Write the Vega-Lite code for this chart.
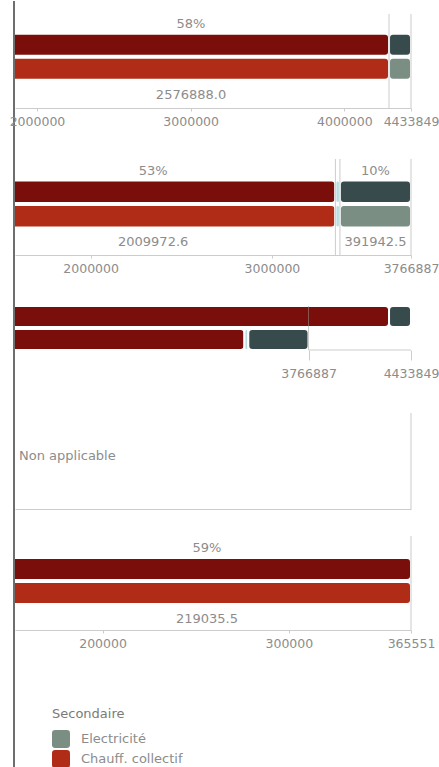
{
  "$schema": "https://vega.github.io/schema/vega-lite/v6.json",
  "padding": {"left": 9, "top": 0, "right": 0, "bottom": 0},
  "config": {
    "font": "DejaVu Sans",
    "view": {"stroke": null},
    "axis": {"labelFontSize": 12.5, "labelColor": "#8c8c8c", "domainColor": "#cccccc", "tickColor": "#cccccc", "tickSize": 3, "labelPadding": 4, "grid": false, "labelOverlap": false, "labelFlush": false},
    "text": {"fontSize": 13, "fill": "#8c8c8c"},
    "legend": {"titleFontSize": 13, "titleFontWeight": "normal", "titleColor": "#7a7a7a", "labelFontSize": 13, "labelColor": "#8c8c8c", "rowPadding": 2, "titlePadding": 9, "labelOffset": 11, "padding": 0}
  },
  "datasets": {
    "bars": [
      {"panel": "p1", "row": "top", "serie": "Chauff. collectif (principal)", "start": 1714000, "end": 4290888},
      {"panel": "p1", "row": "top", "serie": "Electricité (principal)", "start": 4290888, "end": 4433849},
      {"panel": "p1", "row": "bottom", "serie": "Chauff. collectif", "start": 1714000, "end": 4290888},
      {"panel": "p1", "row": "bottom", "serie": "Electricité", "start": 4290888, "end": 4433849},
      {"panel": "p2", "row": "top", "serie": "Chauff. collectif (principal)", "start": 1340027.4, "end": 3350000},
      {"panel": "p2", "row": "top", "serie": "Autre", "start": 3350000, "end": 3374944.5},
      {"panel": "p2", "row": "top", "serie": "Electricité (principal)", "start": 3374944.5, "end": 3766887},
      {"panel": "p2", "row": "bottom", "serie": "Chauff. collectif", "start": 1340027.4, "end": 3350000},
      {"panel": "p2", "row": "bottom", "serie": "Autre", "start": 3350000, "end": 3374944.5},
      {"panel": "p2", "row": "bottom", "serie": "Electricité", "start": 3374944.5, "end": 3766887},
      {"panel": "p3", "row": "top", "serie": "Chauff. collectif (principal)", "start": 1714000, "end": 4290888},
      {"panel": "p3", "row": "top", "serie": "Electricité (principal)", "start": 4290888, "end": 4433849},
      {"panel": "p3", "row": "bottom", "serie": "Chauff. collectif (principal)", "start": 1340027.4, "end": 3350000},
      {"panel": "p3", "row": "bottom", "serie": "Autre", "start": 3350000, "end": 3374944.5},
      {"panel": "p3", "row": "bottom", "serie": "Electricité (principal)", "start": 3374944.5, "end": 3766887},
      {"panel": "p5", "row": "top", "serie": "Chauff. collectif (principal)", "start": 146515.5, "end": 365551},
      {"panel": "p5", "row": "bottom", "serie": "Chauff. collectif", "start": 146515.5, "end": 365551}
    ],
    "labels": [
      {"panel": "p1", "row": "top", "mid": 3002444, "label": "58%"},
      {"panel": "p1", "row": "bottom", "mid": 3002444, "label": "2576888.0"},
      {"panel": "p2", "row": "top", "mid": 2345014, "label": "53%"},
      {"panel": "p2", "row": "bottom", "mid": 2345014, "label": "2009972.6"},
      {"panel": "p2", "row": "top", "mid": 3570916, "label": "10%"},
      {"panel": "p2", "row": "bottom", "mid": 3570916, "label": "391942.5"},
      {"panel": "p5", "row": "top", "mid": 256033, "label": "59%"},
      {"panel": "p5", "row": "bottom", "mid": 256033, "label": "219035.5"}
    ],
    "rules": [
      {"panel": "p1", "value": 4290888},
      {"panel": "p1", "value": 4433849},
      {"panel": "p2", "value": 3350000},
      {"panel": "p2", "value": 3374944.5},
      {"panel": "p2", "value": 3766887},
      {"panel": "p3", "value": 3766887},
      {"panel": "p5", "value": 365551}
    ],
    "brackets": [
      {"panel": "p3", "row": "bottom", "from": 3766887, "to": 4433849}
    ]
  },
  "spacing": -6,
  "hconcat": [
    {
      "width": 2,
      "height": 767,
      "data": {"values": [{"trait": "bord"}]},
      "mark": {"type": "rule", "stroke": "#6e6e6e", "strokeWidth": 2},
      "encoding": {"x": {"datum": 1, "type": "quantitative", "scale": {"domain": [0, 2]}, "axis": null}}
    },
    {
      "bounds": "flush",
      "spacing": 0,
      "resolve": {"scale": {"x": "independent", "y": "independent"}},
      "vconcat": [
        {"width": 1, "height": 13, "data": {"values": []}, "mark": "text", "encoding": {}},
        {
          "width": 396, "height": 94,
          "layer": [
            {
              "data": {"name": "bars"}, "transform": [{"filter": "datum.panel === 'p1'"}],
              "mark": {"type": "bar", "clip": true, "cornerRadius": 4, "stroke": "white", "strokeWidth": 2},
              "encoding": {
                "y": {"field": "row", "type": "nominal", "axis": null, "scale": {"domain": ["top", "bottom"], "paddingInner": 0.087, "paddingOuter": 1.087, "align": 0.41}},
                "x": {"field": "start", "type": "quantitative", "title": null, "scale": {"domain": [1856961, 4433849], "nice": false, "zero": false}, "axis": {"title": null, "values": [2000000, 3000000, 4000000, 4433849], "format": "d", "labelFlush": false, "labelOverlap": false}},
                "x2": {"field": "end"},
                "color": {"field": "serie", "type": "nominal", "title": "Secondaire",
                  "scale": {"domain": ["Electricité", "Chauff. collectif", "Electricité (principal)", "Chauff. collectif (principal)", "Autre"], "range": ["#7b8e84", "#b02c17", "#374b4d", "#7a0e0b", "#b5dde3"]},
                  "legend": {"values": ["Electricité", "Chauff. collectif"], "orient": "none", "legendX": 39, "legendY": 707, "symbolSize": 324, "symbolStrokeWidth": 0, "symbolType": "M-0.65,-1H0.65Q1,-1,1,-0.65V0.65Q1,1,0.65,1H-0.65Q-1,1,-1,0.65V-0.65Q-1,-1,-0.65,-1Z"}}
              }
            },
            {
              "data": {"name": "labels"}, "transform": [{"filter": "datum.panel === 'p1' && datum.row === 'top'"}],
              "mark": {"type": "text", "yOffset": -21},
              "encoding": {"x": {"field": "mid", "type": "quantitative", "title": null}, "y": {"field": "row", "type": "nominal"}, "text": {"field": "label"}}
            },
            {
              "data": {"name": "labels"}, "transform": [{"filter": "datum.panel === 'p1' && datum.row === 'bottom'"}],
              "mark": {"type": "text", "yOffset": 26},
              "encoding": {"x": {"field": "mid", "type": "quantitative", "title": null}, "y": {"field": "row", "type": "nominal"}, "text": {"field": "label"}}
            },
            {
              "data": {"name": "rules"}, "transform": [{"filter": "datum.panel === 'p1'"}],
              "mark": {"type": "rule", "stroke": "#999999", "strokeOpacity": 0.5},
              "encoding": {"x": {"field": "value", "type": "quantitative", "title": null}}
            }
          ]
        },
        {"width": 1, "height": 51, "data": {"values": []}, "mark": "text", "encoding": {}},
        {
          "width": 396, "height": 96,
          "layer": [
            {
              "data": {"name": "bars"}, "transform": [{"filter": "datum.panel === 'p2'"}],
              "mark": {"type": "bar", "clip": true, "cornerRadius": 4, "stroke": "white", "strokeWidth": 2},
              "encoding": {
                "y": {"field": "row", "type": "nominal", "axis": null, "scale": {"domain": ["top", "bottom"], "paddingInner": 0.087, "paddingOuter": 1.13, "align": 0.44}},
                "x": {"field": "start", "type": "quantitative", "title": null, "scale": {"domain": [1583000, 3766887], "nice": false, "zero": false}, "axis": {"title": null, "values": [2000000, 3000000, 3766887], "format": "d", "labelFlush": false, "labelOverlap": false}},
                "x2": {"field": "end"},
                "color": {"field": "serie", "type": "nominal", "title": "Secondaire",
                  "scale": {"domain": ["Electricité", "Chauff. collectif", "Electricité (principal)", "Chauff. collectif (principal)", "Autre"], "range": ["#7b8e84", "#b02c17", "#374b4d", "#7a0e0b", "#b5dde3"]},
                  "legend": {"values": ["Electricité", "Chauff. collectif"], "orient": "none", "legendX": 39, "legendY": 707, "symbolSize": 324, "symbolStrokeWidth": 0, "symbolType": "M-0.65,-1H0.65Q1,-1,1,-0.65V0.65Q1,1,0.65,1H-0.65Q-1,1,-1,0.65V-0.65Q-1,-1,-0.65,-1Z"}}
              }
            },
            {
              "data": {"name": "labels"}, "transform": [{"filter": "datum.panel === 'p2' && datum.row === 'top'"}],
              "mark": {"type": "text", "yOffset": -21},
              "encoding": {"x": {"field": "mid", "type": "quantitative", "title": null}, "y": {"field": "row", "type": "nominal"}, "text": {"field": "label"}}
            },
            {
              "data": {"name": "labels"}, "transform": [{"filter": "datum.panel === 'p2' && datum.row === 'bottom'"}],
              "mark": {"type": "text", "yOffset": 26},
              "encoding": {"x": {"field": "mid", "type": "quantitative", "title": null}, "y": {"field": "row", "type": "nominal"}, "text": {"field": "label"}}
            },
            {
              "data": {"name": "rules"}, "transform": [{"filter": "datum.panel === 'p2'"}],
              "mark": {"type": "rule", "stroke": "#999999", "strokeOpacity": 0.5},
              "encoding": {"x": {"field": "value", "type": "quantitative", "title": null}}
            }
          ]
        },
        {"width": 1, "height": 51, "data": {"values": []}, "mark": "text", "encoding": {}},
        {
          "width": 396, "height": 44,
          "layer": [
            {
              "data": {"name": "bars"}, "transform": [{"filter": "datum.panel === 'p3'"}],
              "mark": {"type": "bar", "clip": true, "cornerRadius": 4, "stroke": "white", "strokeWidth": 2},
              "encoding": {
                "y": {"field": "row", "type": "nominal", "axis": null, "scale": {"domain": ["top", "bottom"], "paddingInner": 0.09, "paddingOuter": 0}},
                "x": {"field": "start", "type": "quantitative", "title": null, "scale": {"domain": [1856961, 4433849], "nice": false, "zero": false}, "axis": {"title": null, "values": [3766887, 4433849], "format": "d", "domain": false, "tickSize": 10, "labelPadding": 7, "labelFlush": false, "labelOverlap": false}},
                "x2": {"field": "end"},
                "color": {"field": "serie", "type": "nominal", "title": "Secondaire",
                  "scale": {"domain": ["Electricité", "Chauff. collectif", "Electricité (principal)", "Chauff. collectif (principal)", "Autre"], "range": ["#7b8e84", "#b02c17", "#374b4d", "#7a0e0b", "#b5dde3"]},
                  "legend": {"values": ["Electricité", "Chauff. collectif"], "orient": "none", "legendX": 39, "legendY": 707, "symbolSize": 324, "symbolStrokeWidth": 0, "symbolType": "M-0.65,-1H0.65Q1,-1,1,-0.65V0.65Q1,1,0.65,1H-0.65Q-1,1,-1,0.65V-0.65Q-1,-1,-0.65,-1Z"}}
              }
            },
            {
              "data": {"name": "rules"}, "transform": [{"filter": "datum.panel === 'p3'"}],
              "mark": {"type": "rule", "stroke": "#999999", "strokeOpacity": 0.5},
              "encoding": {"x": {"field": "value", "type": "quantitative", "title": null}}
            },
            {
              "data": {"name": "brackets"},
              "mark": {"type": "rule", "stroke": "#cccccc"},
              "encoding": {"x": {"field": "from", "type": "quantitative", "title": null}, "x2": {"field": "to"}, "y": {"field": "row", "type": "nominal", "bandPosition": 1}}
            }
          ]
        },
        {"width": 1, "height": 63, "data": {"values": []}, "mark": "text", "encoding": {}},
        {
          "width": 396, "height": 96,
          "data": {"values": [{"panel": "p4", "label": "Non applicable"}]},
          "layer": [
            {
              "mark": {"type": "text", "align": "left", "dx": 4, "dy": -5},
              "encoding": {
                "x": {"datum": 0, "type": "quantitative", "scale": {"domain": [0, 1]}, "axis": {"title": null, "labels": false, "ticks": false, "domain": true}},
                "text": {"field": "label"}
              }
            },
            {
              "mark": {"type": "rule", "stroke": "#999999", "strokeOpacity": 0.5},
              "encoding": {"x": {"datum": 1, "type": "quantitative"}}
            }
          ]
        },
        {"width": 1, "height": 27, "data": {"values": []}, "mark": "text", "encoding": {}},
        {
          "width": 396, "height": 94,
          "layer": [
            {
              "data": {"name": "bars"}, "transform": [{"filter": "datum.panel === 'p5'"}],
              "mark": {"type": "bar", "clip": true, "cornerRadius": 4, "stroke": "white", "strokeWidth": 2},
              "encoding": {
                "y": {"field": "row", "type": "nominal", "axis": null, "scale": {"domain": ["top", "bottom"], "paddingInner": 0.087, "paddingOuter": 1.087, "align": 0.46}},
                "x": {"field": "start", "type": "quantitative", "title": null, "scale": {"domain": [153000, 365551], "nice": false, "zero": false}, "axis": {"title": null, "values": [200000, 300000, 365551], "format": "d", "labelFlush": false, "labelOverlap": false}},
                "x2": {"field": "end"},
                "color": {"field": "serie", "type": "nominal", "title": "Secondaire",
                  "scale": {"domain": ["Electricité", "Chauff. collectif", "Electricité (principal)", "Chauff. collectif (principal)", "Autre"], "range": ["#7b8e84", "#b02c17", "#374b4d", "#7a0e0b", "#b5dde3"]},
                  "legend": {"values": ["Electricité", "Chauff. collectif"], "orient": "none", "legendX": 39, "legendY": 707, "symbolSize": 324, "symbolStrokeWidth": 0, "symbolType": "M-0.65,-1H0.65Q1,-1,1,-0.65V0.65Q1,1,0.65,1H-0.65Q-1,1,-1,0.65V-0.65Q-1,-1,-0.65,-1Z"}}
              }
            },
            {
              "data": {"name": "labels"}, "transform": [{"filter": "datum.panel === 'p5' && datum.row === 'top'"}],
              "mark": {"type": "text", "yOffset": -21},
              "encoding": {"x": {"field": "mid", "type": "quantitative", "title": null}, "y": {"field": "row", "type": "nominal"}, "text": {"field": "label"}}
            },
            {
              "data": {"name": "labels"}, "transform": [{"filter": "datum.panel === 'p5' && datum.row === 'bottom'"}],
              "mark": {"type": "text", "yOffset": 26},
              "encoding": {"x": {"field": "mid", "type": "quantitative", "title": null}, "y": {"field": "row", "type": "nominal"}, "text": {"field": "label"}}
            },
            {
              "data": {"name": "rules"}, "transform": [{"filter": "datum.panel === 'p5'"}],
              "mark": {"type": "rule", "stroke": "#999999", "strokeOpacity": 0.5},
              "encoding": {"x": {"field": "value", "type": "quantitative", "title": null}}
            }
          ]
        }
      ]
    }
  ]
}
